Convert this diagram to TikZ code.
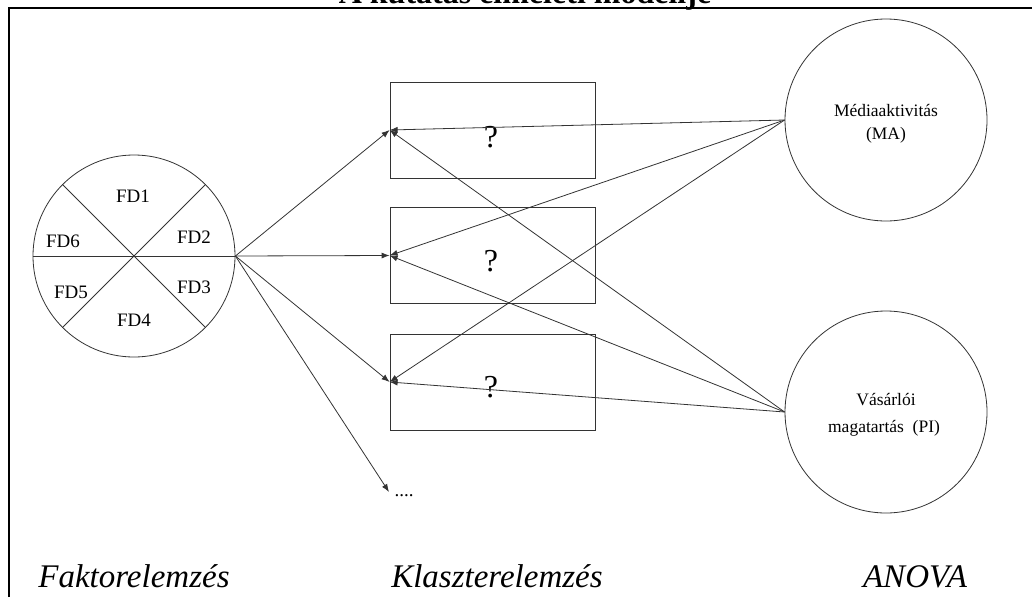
\documentclass[tikz,border=0pt]{standalone}
\usepackage{fontspec}
\setmainfont{Liberation Serif}
\usetikzlibrary{arrows.meta}

\begin{document}
\begin{tikzpicture}[x=1pt,y=-1pt,
  thin line/.style={draw=black!80, line width=0.8pt},
  arr/.style={thin line, -{Latex[length=8pt,width=6pt]}},
  qbox/.style={thin line, minimum width=205pt, minimum height=96pt, inner sep=0pt},
  qmark/.style={font=\fontsize{32}{34}\selectfont},
  bigcirc/.style={circle, thin line, minimum size=202pt, inner sep=0pt},
  ctext/.style={font=\fontsize{17.5}{20}\selectfont},
  fd/.style={font=\fontsize{19}{20}\selectfont},
  colname/.style={anchor=base, font=\itshape\fontsize{33}{36}\selectfont}]
\useasboundingbox (0,0) rectangle (1032,597);

% title and frame
\node[anchor=base, font=\bfseries\fontsize{32}{34}\selectfont] (title) at (525,4) {A kutatás elméleti modellje};
\draw[line width=2pt] (9,597) -- (9,8) -- (1032,8);

% factor circle
\node[bigcirc] (fa) at (134,256) {};
\draw[thin line] (fa.west) -- (fa.east);
\draw[thin line] (fa.135) -- (fa.-45);
\draw[thin line] (fa.45) -- (fa.-135);
\node[fd] (fd1) at (133,196) {FD1};
\node[fd] (fd2) at (194,237) {FD2};
\node[fd] (fd3) at (194,287) {FD3};
\node[fd] (fd4) at (134,320) {FD4};
\node[fd] (fd5) at (71,292) {FD5};
\node[fd] (fd6) at (63,241) {FD6};

% clusters
\node[qbox] (b1) at (492.5,130) {};
\node[qbox] (b2) at (492.5,255.5) {};
\node[qbox] (b3) at (492.5,382) {};
\node[qmark] (q1) at (491,137) {?};
\node[qmark] (q2) at (491,261) {?};
\node[qmark] (q3) at (491,387) {?};
\coordinate (more) at (389,492);
\node[fd] (dots) at (404,496) {....};

% anova
\node[bigcirc] (ma) at (886,120) {};
\node[ctext] (ma1) at (886,110) {Médiaaktivitás};
\node[ctext] (ma2) at (886,135) {(MA)};
\node[bigcirc] (pi) at (886,412) {};
\node[ctext] (pi1) at (886,400) {Vásárlói};
\node[ctext] (pi2) at (884,428) {magatartás~~(PI)};

\draw[arr] (fa.east) -- (b1.west);
\draw[arr] (fa.east) -- (b2.west);
\draw[arr] (fa.east) -- (b3.west);
\draw[arr] (fa.east) -- (more);

\draw[arr] (ma.west) -- (b1.west);
\draw[arr] (ma.west) -- (b2.west);
\draw[arr] (ma.west) -- (b3.west);
\draw[arr] (pi.west) -- (b1.west);
\draw[arr] (pi.west) -- (b2.west);
\draw[arr] (pi.west) -- (b3.west);

% column names
\node[colname] (c1) at (134,587) {Faktorelemzés};
\node[colname] (c2) at (497,587) {Klaszterelemzés};
\node[colname] (c3) at (915,587) {ANOVA};
\end{tikzpicture}
\end{document}
